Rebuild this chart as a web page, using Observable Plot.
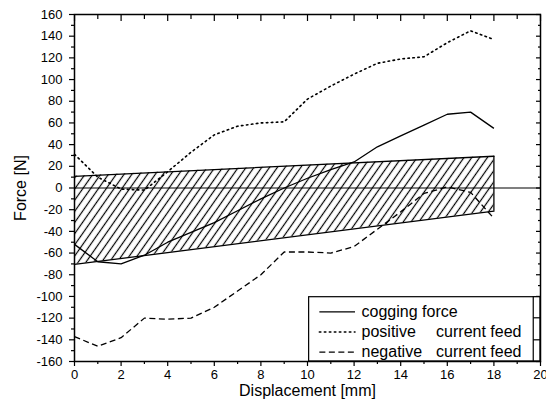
<!DOCTYPE html>
<html><head><meta charset="utf-8">
<script src="https://cdn.jsdelivr.net/npm/d3@7"></script>
<script src="https://cdn.jsdelivr.net/npm/@observablehq/plot@0.6"></script>
<style>html,body{margin:0;padding:0;background:#fff} svg{display:block}</style>
</head><body><div id="chart"></div>
<script>
// ---- data ----
const displacement = [0,1,2,3,4,5,6,7,8,9,10,11,12,13,14,15,16,17,18];
const cogging  = [-52,-68,-70,-62,-50,-41,-32,-21,-10,0,9,17,24,38,48,58,68,70,55];
const positive = [31,10,-1,-2,15,33,49,57,60,61,82,94,105,115,119,121,134,145,137];
const negative = [-137,-146,-138,-120,-121,-120,-110,-95,-80,-59,-59,-60,-54,-38,-22,-5,1,-4,-28];
const bandX     = [0,18];
const bandLower = [-70.5,-21.4];
const bandUpper = [10.8,29.3];
const xTicks = [0,2,4,6,8,10,12,14,16,18,20];
const xMinor = [1,3,5,7,9,11,13,15,17,19];
const yTicks = [-160,-140,-120,-100,-80,-60,-40,-20,0,20,40,60,80,100,120,140,160];
const yMinor = [-150,-130,-110,-90,-70,-50,-30,-10,10,30,50,70,90,110,130,150];
const legendNames  = ["cogging force","positive","negative"];
const legendSuffix = ["","current feed","current feed"];

// ---- layout / style ----
const font = "Liberation Sans, Arial, Helvetica, sans-serif";
const dashes = [null, "1.5,3.5", "6,3.5"];
const lineSeries = [cogging, positive, negative];
const legendRowsY = [-114.3,-132.8,-151.3];
const LG = {x1:10.07, x2:20, y1:-160, y2:-100.7, sx1:10.53, sx2:12.06, tx1:12.32, tx2:15.52, colX:19.71, div:[-119.7,-140]};

const marks = [
  // hatched band
  Plot.areaY(bandX, {x:d=>d, y1:(d,i)=>bandLower[i], y2:(d,i)=>bandUpper[i], fill:"url(#hatch)"}),
  Plot.line(bandX, {x:d=>d, y:(d,i)=>bandUpper[i], stroke:"black", strokeWidth:1.3}),
  Plot.line(bandX, {x:d=>d, y:(d,i)=>bandLower[i], stroke:"black", strokeWidth:1.3}),
  Plot.ruleX([bandX[1]], {y1:bandLower[1], y2:bandUpper[1], stroke:"black", strokeWidth:1.3}),
  Plot.ruleY([0], {stroke:"black", strokeWidth:1.2}),
  // series
  ...lineSeries.map((vals,k)=>Plot.line(vals, {x:(d,i)=>displacement[i], y:d=>d, stroke:"black",
      strokeWidth: k===1 ? 1.6 : 1.3, strokeDasharray: dashes[k], strokeLinecap: k===1 ? "round" : "butt"})),
  // axes
  Plot.axisY({ticks:yTicks, tickSize:5, tickPadding:7, tickFormat:d=>String(d), fontSize:13, label:null, strokeWidth:1.2}),
  Plot.axisY({ticks:yMinor, tickSize:3, tickFormat:()=>"", label:null, strokeWidth:1.2}),
  Plot.axisY({anchor:"right", ticks:yTicks, tickSize:5, dx:-5, tickFormat:()=>"", label:null, strokeWidth:1.2}),
  Plot.axisY({anchor:"right", ticks:yMinor, tickSize:3, dx:-3, tickFormat:()=>"", label:null, strokeWidth:1.2}),
  Plot.axisX({ticks:xTicks, tickSize:5, tickPadding:3, tickFormat:d=>String(d), fontSize:13, label:null, strokeWidth:1.2}),
  Plot.axisX({ticks:xMinor, tickSize:3, tickFormat:()=>"", label:null, strokeWidth:1.2}),
  Plot.axisX({anchor:"top", ticks:xTicks, tickSize:6, dy:6, tickFormat:()=>"", label:null, strokeWidth:1.2}),
  Plot.axisX({anchor:"top", ticks:xMinor, tickSize:4, dy:4, tickFormat:()=>"", label:null, strokeWidth:1.2}),
  Plot.text(["Force [N]"], {frameAnchor:"left", dx:-54, rotate:-90, textAnchor:"middle", lineAnchor:"middle", fontSize:16}),
  Plot.text(["Displacement [mm]"], {frameAnchor:"bottom", dy:29, textAnchor:"middle", lineAnchor:"middle", fontSize:16}),
  // legend
  Plot.rect([0], {x1:LG.x1, x2:LG.x2, y1:LG.y1, y2:LG.y2, fill:"white", stroke:"black", strokeWidth:1.2}),
  Plot.rect([0], {x1:LG.colX, x2:LG.x2, y1:LG.y1, y2:LG.y2, fill:"white", stroke:"black", strokeWidth:1.2}),
  Plot.ruleY(LG.div, {x1:LG.colX, x2:LG.x2, stroke:"black", strokeWidth:1.2}),
  ...legendNames.map((n,k)=>Plot.ruleY([legendRowsY[k]], {x1:LG.sx1, x2:LG.sx2, stroke:"black",
      strokeWidth: k===1 ? 1.6 : 1.3, strokeDasharray: dashes[k], strokeLinecap: k===1 ? "round" : "butt"})),
  Plot.text(legendNames, {x:LG.tx1, y:(d,i)=>legendRowsY[i], text:d=>d, textAnchor:"start", lineAnchor:"middle", fontSize:16}),
  Plot.text(legendSuffix, {x:LG.tx2, y:(d,i)=>legendRowsY[i], text:d=>d, textAnchor:"start", lineAnchor:"middle", fontSize:16}),
  Plot.frame({stroke:"black", strokeWidth:1.5})
];

const chart = Plot.plot({
  width:546, height:413,
  marginLeft:74, marginRight:6, marginTop:14, marginBottom:52,
  x:{domain:[0,20]},
  y:{domain:[-160,160]},
  style:{fontFamily:font, fontSize:"13px", color:"black", background:"white", overflow:"visible"},
  marks
});

const defs = d3.select(chart).insert("defs", ":first-child");
const pat = defs.append("pattern").attr("id","hatch").attr("patternUnits","userSpaceOnUse")
  .attr("width",6.4).attr("height",10).attr("patternTransform","rotate(35)");
pat.append("line").attr("x1",3.2).attr("y1",-1).attr("x2",3.2).attr("y2",11)
  .attr("stroke","black").attr("stroke-width",1.2);

document.getElementById("chart").appendChild(chart);
</script>
</body></html>
